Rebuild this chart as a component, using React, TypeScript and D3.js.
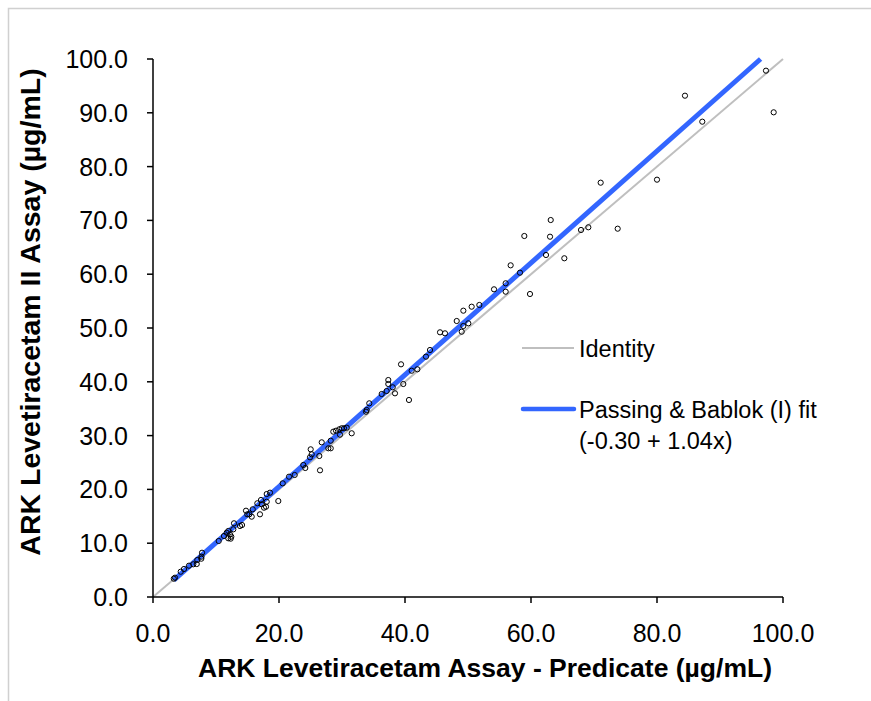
import React from "react";
import * as d3 from "d3";

const xValues: number[] = [
  3.3, 3.49, 4.4, 4.92, 5.71, 6.4, 7.03, 6.94, 7.67, 7.78, 7.7,
  10.43, 11.27, 11.7, 11.95, 12.22, 12.43, 11.95, 12.33, 12.75, 12.86, 13.81, 14.13,
  14.76, 14.97, 15.29, 15.67, 15.83, 16.56, 16.98, 17.14, 17.25, 17.62, 17.94, 18.05, 18.05, 18.57, 19.89,
  20.59, 21.59, 22.49, 23.86, 24.17, 24.92, 25.19, 25.03, 26.4, 26.51, 26.78, 27.83, 28.21, 28.21,
  28.62, 29.05, 29.57, 29.95, 30.32, 30.75, 29.68, 31.54, 33.81, 33.92, 34.33,
  36.3, 37.09, 37.35, 37.35, 38.05, 38.41, 39.73, 39.37, 40.63, 41.06, 41.96, 43.33, 43.97, 45.56, 46.35,
  48.21, 49.0, 49.26, 50.05, 49.26, 50.58, 51.8, 54.13, 55.98, 55.98, 56.77, 58.25, 59.84, 58.94,
  62.38, 63.02, 63.13, 65.29, 67.94, 69.1, 73.76, 71.06, 80.0, 84.44, 87.19, 97.3, 98.52,
];
const yValues: number[] = [
  3.4, 3.59, 4.7, 5.2, 5.82, 6.08, 6.88, 6.13, 7.12, 8.23, 7.5,
  10.41, 11.34, 11.95, 12.27, 11.65, 11.21, 10.91, 10.84, 12.58, 13.7, 13.2, 13.38,
  16.04, 15.37, 15.37, 14.93, 16.3, 17.42, 15.37, 18.03, 17.23, 16.6, 16.78, 17.71, 19.14, 19.39, 17.84,
  21.13, 22.36, 22.68, 24.54, 23.98, 25.97, 26.52, 27.45, 26.21, 23.55, 28.75, 27.64, 27.64, 29.05,
  30.73, 30.91, 31.17, 31.36, 31.36, 31.47, 30.17, 30.43, 34.44, 34.76, 36.0,
  37.73, 38.29, 39.59, 40.33, 38.98, 37.86, 39.59, 43.25, 36.62, 42.06, 42.32, 44.67, 45.91, 49.2, 49.01,
  51.3, 49.31, 50.37, 50.87, 53.22, 53.96, 54.28, 57.19, 58.31, 56.75, 61.65, 60.28, 56.32, 67.1,
  63.57, 66.97, 70.07, 62.96, 68.22, 68.72, 68.46, 77.01, 77.57, 93.18, 88.35, 97.83, 90.09,
];

const tickValuesX: number[] = [0, 20, 40, 60, 80, 100];
const tickValuesY: number[] = [0, 10, 20, 30, 40, 50, 60, 70, 80, 90, 100];
const fitIntercept = -0.3;
const fitSlope = 1.04;
const xTitle = "ARK Levetiracetam Assay - Predicate (µg/mL)";
const yTitle = "ARK Levetiracetam II Assay (µg/mL)";
const legendLabels: string[] = ["Identity", "Passing & Bablok (I) fit", "(-0.30 + 1.04x)"];

export default function App() {
  const W = 871;
  const H = 701;
  const x = d3.scaleLinear().domain([0, 100]).range([153, 783]);
  const y = d3.scaleLinear().domain([0, 100]).range([597, 59]);
  const font = "'Liberation Sans', Arial, sans-serif";
  const fmt = d3.format(".1f");
  const pts = xValues.map((v, i) => [v, yValues[i]] as [number, number]);
  const line = d3.line<[number, number]>().x((d) => x(d[0])).y((d) => y(d[1]));
  const xMin = d3.min(xValues) as number;
  const fitEndX = (100 - fitIntercept) / fitSlope;
  const fitPts: [number, number][] = [
    [xMin, fitIntercept + fitSlope * xMin],
    [fitEndX, 100],
  ];
  const idPts: [number, number][] = [
    [0, 0],
    [100, 100],
  ];
  return (
    <svg
      width={W}
      height={H}
      style={{ position: "absolute", left: 0, top: 0, display: "block", background: "#fff" }}
      fontFamily={font}
    >
      <rect x={8.5} y={8.5} width={900} height={800} fill="#fff" stroke="#D0D0D0" strokeWidth={1.5} />
      {/* identity */}
      <path d={line(idPts) || ""} stroke="#BFBFBF" strokeWidth={2} fill="none" />
      {/* fit */}
      <path d={line(fitPts) || ""} stroke="#3366FF" strokeWidth={5} fill="none" />
      {/* points */}
      {pts.map((p, i) => (
        <circle key={i} cx={x(p[0])} cy={y(p[1])} r={2.6} fill="none" stroke="#000" strokeWidth={1} />
      ))}
      {/* axes */}
      <line x1={x(0)} x2={x(100)} y1={y(0)} y2={y(0)} stroke="#000" strokeWidth={1.5} />
      <line x1={x(0)} x2={x(0)} y1={y(0)} y2={y(100)} stroke="#000" strokeWidth={1.5} />
      {tickValuesX.map((t) => (
        <g key={"x" + t}>
          <line x1={x(t)} x2={x(t)} y1={y(0)} y2={y(0) + 6} stroke="#000" strokeWidth={1.5} />
          <text x={x(t)} y={y(0) + 45} textAnchor="middle" fontSize={25} fill="#000">
            {fmt(t)}
          </text>
        </g>
      ))}
      {tickValuesY.map((t) => (
        <g key={"y" + t}>
          <line x1={x(0) - 6} x2={x(0)} y1={y(t)} y2={y(t)} stroke="#000" strokeWidth={1.5} />
          <text x={x(0) - 25} y={y(t) + 9} textAnchor="end" fontSize={25} fill="#000">
            {fmt(t)}
          </text>
        </g>
      ))}
      <text x={485} y={677} textAnchor="middle" fontSize={26.5} fontWeight="bold" fill="#000">
        {xTitle}
      </text>
      <text
        transform={`translate(40,${312}) rotate(-90)`}
        textAnchor="middle"
        fontSize={28.5}
        fontWeight="bold"
        fill="#000"
      >
        {yTitle}
      </text>
      {/* legend */}
      <line x1={522} x2={574} y1={348} y2={348} stroke="#BFBFBF" strokeWidth={2} />
      <text x={579} y={357} fontSize={23.5} fill="#000">{legendLabels[0]}</text>
      <line x1={523} x2={574} y1={409} y2={409} stroke="#3366FF" strokeWidth={4.5} strokeLinecap="round" />
      <text x={579} y={418} fontSize={23.5} fill="#000">{legendLabels[1]}</text>
      <text x={579} y={449} fontSize={23.5} fill="#000">{legendLabels[2]}</text>
    </svg>
  );
}
